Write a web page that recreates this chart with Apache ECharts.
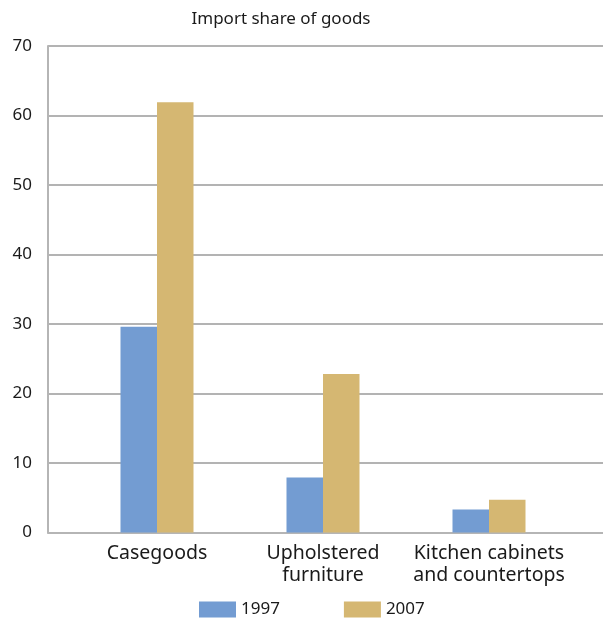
<!DOCTYPE html>
<html>
<head>
<meta charset="utf-8">
<script src="https://cdn.jsdelivr.net/npm/echarts@6/dist/echarts.min.js"></script>
<style>
  html, body { margin: 0; padding: 0; background: #fff; }
  #chart { width: 603px; height: 624px; }
</style>
</head>
<body>
<div id="chart"></div>
<script>
// Import share of goods by product group
const categories = ['Casegoods', 'Upholstered\nfurniture', 'Kitchen cabinets\nand countertops'];
const share1997 = [29.6, 7.9, 3.3];
const share2007 = [61.9, 22.8, 4.7];
const yTicks = { min: 0, max: 70, interval: 10 };

const FONT = '"Noto Sans", "Open Sans", sans-serif';
const TOP = 46, BOTTOM = 91.5;

const chart = echarts.init(document.getElementById('chart'), null, { renderer: 'canvas' });
chart.setOption({
  animation: false,
  backgroundColor: '#ffffff',
  textStyle: { fontFamily: FONT },
  title: {
    text: 'Import share of goods',
    left: 276, top: 6, textAlign: 'center',
    textStyle: { fontFamily: FONT, fontSize: 17, fontWeight: 'normal', color: '#1a1a1a' }
  },
  legend: {
    bottom: 6, left: 199, padding: 0,
    icon: 'rect',
    itemWidth: 37, itemHeight: 16, itemGap: 64,
    textStyle: { fontFamily: FONT, fontSize: 17, color: '#1a1a1a' },
    data: ['1997', '2007']
  },
  grid: [
    { left: 48, right: 0, top: TOP, bottom: BOTTOM },
    { left: 74, right: 31, top: TOP, bottom: BOTTOM }
  ],
  xAxis: [
    {
      gridIndex: 0, type: 'value', min: 0, max: 1,
      axisLabel: { show: false }, axisTick: { show: false }, splitLine: { show: false },
      axisLine: { show: true, lineStyle: { color: '#b5b5b5', width: 2 } }
    },
    {
      gridIndex: 1, type: 'category', data: categories,
      axisLine: { show: false }, axisTick: { show: false },
      axisLabel: { interval: 0, fontFamily: FONT, fontSize: 19.5, color: '#1a1a1a', lineHeight: 22, margin: 10 }
    }
  ],
  yAxis: [
    {
      gridIndex: 0, type: 'value', min: yTicks.min, max: yTicks.max, interval: yTicks.interval,
      axisLine: { show: true, lineStyle: { color: '#b5b5b5', width: 2 } },
      axisTick: { show: false },
      axisLabel: { fontFamily: FONT, fontSize: 17, color: '#1a1a1a', margin: 16 },
      splitLine: { show: true, lineStyle: { color: '#9a9a9a', width: 1.5 } }
    },
    {
      gridIndex: 1, type: 'value', min: yTicks.min, max: yTicks.max, interval: yTicks.interval,
      show: false
    }
  ],
  series: [
    {
      name: '1997', type: 'bar', xAxisIndex: 1, yAxisIndex: 1,
      data: share1997, barWidth: 36.5, barGap: '0%',
      itemStyle: { color: '#739cd2' }
    },
    {
      name: '2007', type: 'bar', xAxisIndex: 1, yAxisIndex: 1,
      data: share2007, barWidth: 36.5, barGap: '0%',
      itemStyle: { color: '#d5b772' }
    }
  ]
});
</script>
</body>
</html>
